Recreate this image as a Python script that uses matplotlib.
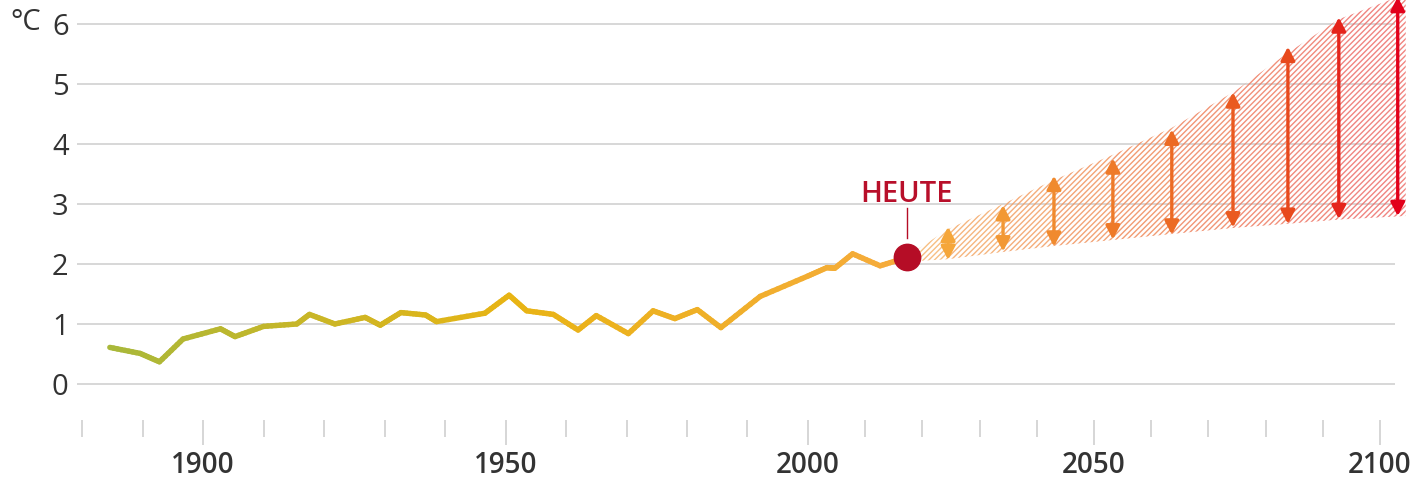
import matplotlib
matplotlib.use("Agg")
import matplotlib.pyplot as plt
import numpy as np
from matplotlib.collections import LineCollection
from matplotlib.colors import LinearSegmentedColormap, to_rgba

plt.rcParams['font.family'] = ['Open Sans', 'DejaVu Sans']

# measured temperature anomaly (°C)
hist_years = [1884.6, 1889.6, 1892.8, 1896.7, 1902.9, 1905.3, 1910.0, 1915.5, 1917.6,
              1921.8, 1926.8, 1929.3, 1932.7, 1936.8, 1938.6, 1946.6, 1950.6, 1953.5,
              1957.9, 1962.0, 1965.0, 1970.3, 1974.4, 1978.0, 1981.7, 1985.6, 1992.1,
              2000.0, 2003.3, 2004.7, 2007.8, 2012.6, 2017.3]
hist_temp = [0.61, 0.51, 0.37, 0.75, 0.92, 0.79, 0.96, 1.00, 1.16,
             1.00, 1.11, 0.98, 1.19, 1.15, 1.04, 1.18, 1.48, 1.22,
             1.16, 0.90, 1.14, 0.84, 1.22, 1.09, 1.24, 0.94, 1.46,
             1.80, 1.94, 1.93, 2.17, 1.97, 2.11]

today_year = 2017.3
today_temp = 2.11

# projection range (arrows)
proj_years = [2024.5, 2034.1, 2043.0, 2053.3, 2063.6, 2074.3, 2083.9, 2092.8, 2103.1]
proj_low = [2.07, 2.21, 2.29, 2.41, 2.49, 2.61, 2.67, 2.75, 2.80]
proj_high = [2.62, 2.98, 3.47, 3.76, 4.24, 4.86, 5.62, 6.11, 6.45]

# outline of the hatched band
band_years = [2017.3, 2024.5, 2034.1, 2043.0, 2053.3, 2063.6, 2074.3, 2083.9, 2092.8, 2104.5]
band_low = [2.04, 2.08, 2.20, 2.30, 2.40, 2.50, 2.60, 2.67, 2.74, 2.80]
band_high = [2.13, 2.58, 3.00, 3.40, 3.82, 4.27, 4.86, 5.52, 6.08, 6.50]

y_ticks = [0, 1, 2, 3, 4, 5, 6]
x_major = [1900, 1950, 2000, 2050, 2100]
x_minor = [1880, 1890, 1910, 1920, 1930, 1940, 1960, 1970, 1980, 1990,
           2010, 2020, 2030, 2040, 2060, 2070, 2080, 2090]


def fwd(x):
    x = np.asarray(x, dtype=float)
    return np.where(x < 2000, (x - 2000) * 6.05, (x - 2000) * 5.72)


def inv(y):
    y = np.asarray(y, dtype=float)
    return np.where(y < 0, y / 6.05 + 2000, y / 5.72 + 2000)


fig = plt.figure(figsize=(14.17, 4.78), dpi=100)
ax = fig.add_axes([77 / 1417, 58 / 478, 1 - 77 / 1417, 420 / 478])
ax.set_xscale('function', functions=(fwd, inv))
ax.set_xlim(inv(77 - 808), inv(1417 - 808))
ax.set_ylim(-0.6, 6.4)

for s in ax.spines.values():
    s.set_visible(False)

# grid lines
ax.hlines(y_ticks, inv(77 - 808), inv(1395 - 808), color='#d4d4d4', lw=1.3, zorder=1)

# historical line with colour gradient
line_cmap = LinearSegmentedColormap.from_list(
    'hist', [(0, '#a9b83a'), (0.5, '#e8b414'), (1.0, '#f6ab3c')])
pts = np.column_stack([hist_years, hist_temp])
dense = []
for i in range(len(pts) - 1):
    for t in np.linspace(0, 1, 8, endpoint=False):
        dense.append(pts[i] * (1 - t) + pts[i + 1] * t)
dense.append(pts[-1])
dense = np.array(dense)
segs = np.stack([dense[:-1], dense[1:]], axis=1)
lc = LineCollection(segs, cmap=line_cmap, linewidths=3.9, capstyle='round', joinstyle='round', zorder=3)
lc.set_array((dense[:-1, 0] - 1884) / (2018 - 1884))
ax.add_collection(lc)

# hatched projection band, orange to red
plt.rcParams['hatch.linewidth'] = 1.0
band_cmap = LinearSegmentedColormap.from_list('band', ['#f6b46e', '#f08a5a', '#ee6f6a'])
for i in range(len(band_years) - 1):
    c = band_cmap(i / (len(band_years) - 2))
    ax.fill_between(band_years[i:i + 2], band_low[i:i + 2], band_high[i:i + 2],
                    facecolor='none', edgecolor=to_rgba(c, 0.85), hatch='//////',
                    lw=0, zorder=2, clip_on=False)

# range arrows
arrow_cmap = LinearSegmentedColormap.from_list(
    'arr', ['#f5a63a', '#f08a2e', '#ec6a24', '#e84a1c', '#e2001a'])
for i, (x, lo, hi) in enumerate(zip(proj_years, proj_low, proj_high)):
    c = arrow_cmap(i / (len(proj_years) - 1))
    ax.annotate('', xy=(x, hi), xytext=(x, lo),
                arrowprops=dict(arrowstyle='<|-|>,head_length=0.8,head_width=0.42',
                                color=c, lw=2.4, shrinkA=0, shrinkB=0),
                zorder=4, annotation_clip=False)

# today marker
ax.plot([today_year], [today_temp], 'o', ms=19, color='#b50d26', zorder=5, clip_on=False)
ax.plot([today_year, today_year], [today_temp + 0.33, today_temp + 0.82], color='#b50d26', lw=1.0, zorder=5)
ax.text(today_year, 3.16, 'HEUTE', color='#b80f2a', fontsize=21, fontweight='semibold',
        ha='center', va='center')

# ticks
ax.set_yticks(y_ticks)
ax.set_yticklabels([str(v) for v in y_ticks])
ax.tick_params(axis='y', length=0, pad=6, labelsize=21, labelcolor='#333333')
ax.set_xticks(x_major)
ax.set_xticklabels([str(v) for v in x_major])
ax.set_xticks(x_minor, minor=True)
ax.tick_params(axis='x', which='major', length=18, width=1.2, color='#cfcfcf', pad=4,
               labelsize=20, labelcolor='#333333')
ax.tick_params(axis='x', which='minor', length=12, width=1.2, color='#cfcfcf')
for lab in ax.get_xticklabels():
    lab.set_fontweight('semibold')

fig.text(10 / 1417, 1 - 23 / 478, '°C', fontsize=21, color='#333333', ha='left', va='center')

fig.savefig('out.png', dpi=100)
